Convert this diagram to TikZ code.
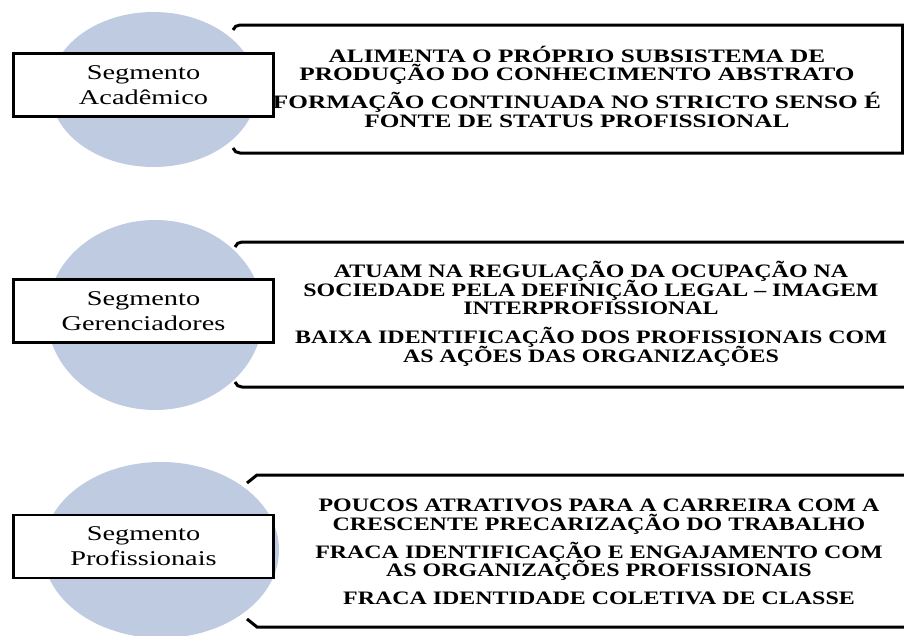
\documentclass[tikz,border=0pt]{standalone}
\usepackage{fontspec}
\setmainfont{Liberation Serif}
\usetikzlibrary{shapes.geometric}
\definecolor{segblue}{RGB}{191,203,224}
\newcommand{\tightlines}{\lineskiplimit=-30pt\relax}
\tikzset{
  segcircle/.style={ellipse, fill=segblue, draw=none, inner sep=0pt},
  segbox/.style={rectangle, draw, line width=2.8pt, fill=white, xscale=1.35, minimum width=192.6pt, minimum height=63pt, inner sep=0pt, align=center, font=\fontsize{21}{25}\selectfont},
  desc/.style={align=center, font=\bfseries\fontsize{19}{18.7}\selectfont\tightlines},
  bracket/.style={line width=3pt}
}
\begin{document}
\begin{tikzpicture}[x=1pt, y=-1pt]
			\useasboundingbox (0,0) rectangle (904,635);

			\node[segcircle, minimum width=207pt, minimum height=155pt] (acadCircle) at (153.5, 89.5) {};
			\node[segcircle, minimum width=216pt, minimum height=190pt] (gerCircle) at (155, 315) {};
			\node[segcircle, minimum width=236pt, minimum height=176pt] (profCircle) at (161, 550) {};

			\draw[bracket] (233,30) to[out=70, in=180] (240,25) -- (902.5,25) -- (902.5,153) -- (240,153) to[out=180, in=-70] (233,148);
			\draw[bracket] (235,247) to[out=70, in=180] (242,242) -- (904,242);
			\draw[bracket] (235,382) to[out=-70, in=180] (242,387) -- (904,387);
			\draw[bracket] (247,483) -- (257,475) -- (904,475);
			\draw[bracket] (247,619) -- (257,627) -- (904,627);

			\node[segbox] (acadBox) at (143.5, 85) {Segmento\\Acadêmico};
			\node[segbox] (gerBox) at (143.5, 311) {Segmento\\Gerenciadores};
			\node[segbox] (profBox) at (143.5, 546.5) {Segmento\\Profissionais};

			\node[desc, xscale=1.33] (acadText) at (577, 86.7) {ALIMENTA O PRÓPRIO SUBSISTEMA DE\\PRODUÇÃO DO CONHECIMENTO ABSTRATO\\[9pt]FORMAÇÃO CONTINUADA NO STRICTO SENSO É\\FONTE DE STATUS PROFISSIONAL};
			\node[desc, xscale=1.26] (gerText) at (591, 313.7) {ATUAM NA REGULAÇÃO DA OCUPAÇÃO NA\\SOCIEDADE PELA DEFINIÇÃO LEGAL – IMAGEM\\INTERPROFISSIONAL\\[10pt]BAIXA IDENTIFICAÇÃO DOS PROFISSIONAIS COM\\AS AÇÕES DAS ORGANIZAÇÕES};
			\node[desc, xscale=1.26] (profText) at (599, 552) {POUCOS ATRATIVOS PARA A CARREIRA COM A\\CRESCENTE PRECARIZAÇÃO DO TRABALHO\\[9pt]FRACA IDENTIFICAÇÃO E ENGAJAMENTO COM\\AS ORGANIZAÇÕES PROFISSIONAIS\\[9pt]FRACA IDENTIDADE COLETIVA DE CLASSE};
		\end{tikzpicture}
\end{document}
